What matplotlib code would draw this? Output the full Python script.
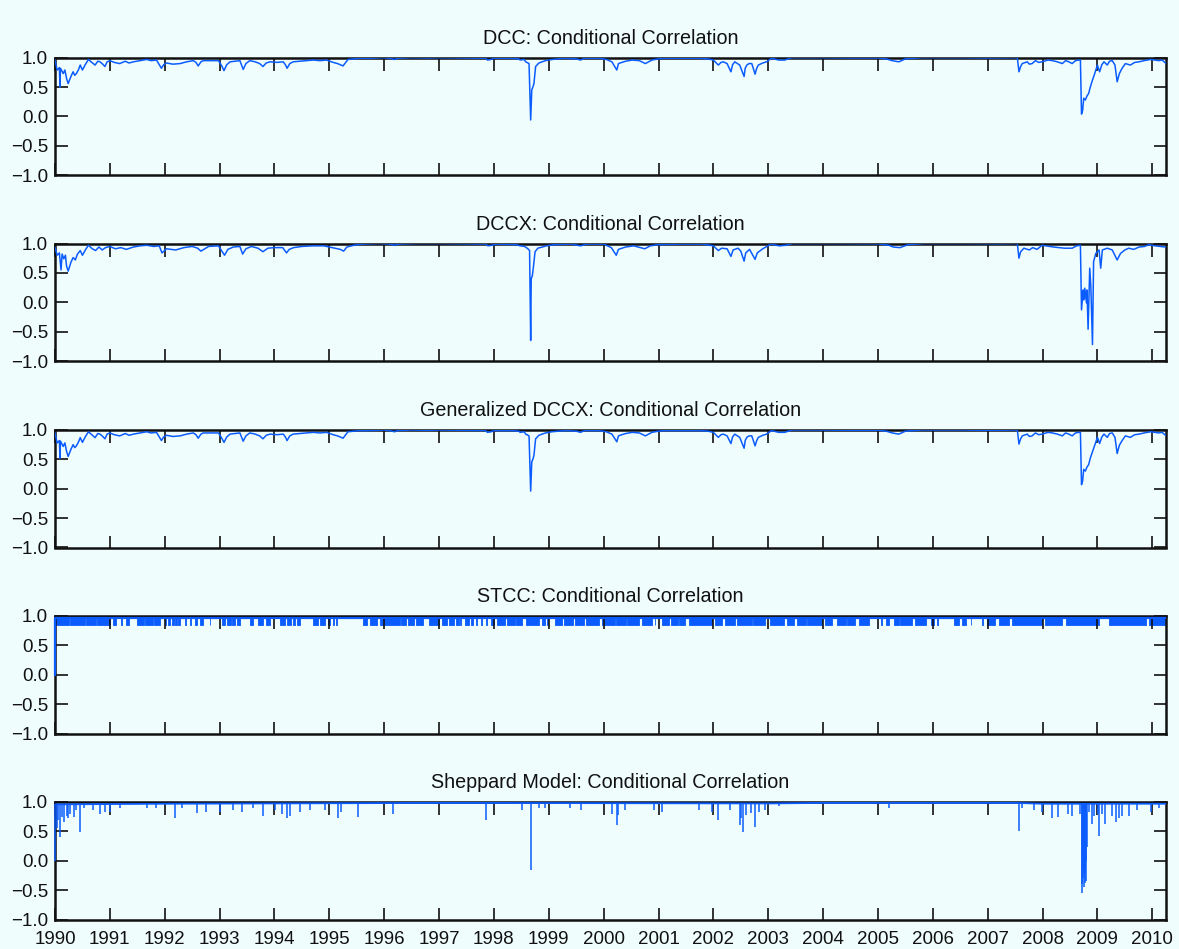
import numpy as np
import matplotlib
matplotlib.use('Agg')
import matplotlib.pyplot as plt
from matplotlib.ticker import FuncFormatter

plt.rcParams['font.family'] = ['Liberation Sans', 'DejaVu Sans']

# ---- data (fractional years, correlation) ----
years = list(range(1990, 2011))
titles = ['DCC: Conditional Correlation', 'DCCX: Conditional Correlation',
          'Generalized DCCX: Conditional Correlation', 'STCC: Conditional Correlation',
          'Sheppard Model: Conditional Correlation']

dcc_t = [1990.00, 1990.04, 1990.08, 1990.09, 1990.10, 1990.15, 1990.18, 1990.21, 1990.24, 1990.29,
         1990.33, 1990.36, 1990.39, 1990.43, 1990.46, 1990.50, 1990.55, 1990.61, 1990.67, 1990.73,
         1990.78, 1990.82, 1990.87, 1990.91, 1990.95, 1991.00, 1991.08, 1991.18, 1991.28, 1991.35,
         1991.43, 1991.55, 1991.67, 1991.75, 1991.85, 1991.94, 1991.98, 1992.03, 1992.15, 1992.28,
         1992.40, 1992.52, 1992.57, 1992.61, 1992.66, 1992.70, 1992.85, 1992.98, 1993.04, 1993.08,
         1993.13, 1993.19, 1993.28, 1993.37, 1993.43, 1993.48, 1993.55, 1993.65, 1993.73, 1993.79,
         1993.85, 1993.92, 1994.05, 1994.16, 1994.20, 1994.23, 1994.28, 1994.34, 1994.45, 1994.58,
         1994.71, 1994.83, 1994.95, 1995.07, 1995.15, 1995.25, 1995.30, 1995.34, 1995.45, 1995.56,
         1995.75, 1995.98, 1996.10, 1996.19, 1996.25, 1996.50, 1996.80, 1997.00, 1997.50, 1997.85,
         1997.88, 1997.95, 1998.00, 1998.30, 1998.45, 1998.48, 1998.55, 1998.58, 1998.64, 1998.67,
         1998.69, 1998.71, 1998.73, 1998.76, 1998.82, 1998.88, 1998.94, 1999.06, 1999.30, 1999.50,
         1999.58, 1999.65, 1999.91, 2000.05, 2000.15, 2000.24, 2000.27, 2000.30, 2000.40, 2000.52,
         2000.65, 2000.76, 2000.82, 2000.88, 2001.00, 2001.12, 2001.40, 2001.73, 2001.90, 2002.00,
         2002.09, 2002.14, 2002.18, 2002.25, 2002.32, 2002.35, 2002.39, 2002.44, 2002.48, 2002.56,
         2002.58, 2002.61, 2002.65, 2002.70, 2002.76, 2002.79, 2002.82, 2002.90, 2002.97, 2003.06,
         2003.19, 2003.30, 2003.43, 2004.00, 2004.50, 2005.02, 2005.15, 2005.26, 2005.38, 2005.50,
         2005.81, 2006.50, 2007.00, 2007.54, 2007.57, 2007.60, 2007.63, 2007.72, 2007.76, 2007.81,
         2007.87, 2007.93, 2007.99, 2008.10, 2008.18, 2008.27, 2008.36, 2008.42, 2008.48, 2008.54,
         2008.60, 2008.66, 2008.69, 2008.71, 2008.73, 2008.75, 2008.78, 2008.81, 2008.84, 2008.87,
         2008.91, 2008.94, 2008.97, 2009.00, 2009.04, 2009.08, 2009.12, 2009.18, 2009.22, 2009.27,
         2009.32, 2009.36, 2009.40, 2009.45, 2009.51, 2009.60, 2009.68, 2009.76, 2009.85, 2009.97,
         2010.05, 2010.12, 2010.18, 2010.24]
dcc_v = [0.96, 0.79, 0.83, 0.50, 0.82, 0.73, 0.79, 0.65, 0.56, 0.68,
         0.76, 0.70, 0.73, 0.80, 0.875, 0.79, 0.88, 0.97, 0.92, 0.875,
         0.94, 0.93, 0.89, 0.85, 0.93, 0.95, 0.92, 0.90, 0.94, 0.91,
         0.93, 0.95, 0.97, 0.95, 0.96, 0.82, 0.88, 0.91, 0.89, 0.90,
         0.93, 0.95, 0.92, 0.86, 0.93, 0.95, 0.95, 0.95, 0.86, 0.78,
         0.88, 0.93, 0.94, 0.95, 0.80, 0.90, 0.95, 0.93, 0.90, 0.85,
         0.91, 0.93, 0.92, 0.93, 0.88, 0.82, 0.90, 0.93, 0.94, 0.95,
         0.96, 0.95, 0.96, 0.92, 0.90, 0.86, 0.92, 0.97, 0.98, 0.99,
         0.99, 1.00, 0.99, 0.97, 0.99, 1.00, 0.995, 1.00, 0.995, 0.99,
         0.96, 0.97, 0.99, 0.99, 0.98, 0.96, 0.97, 0.93, 0.90, -0.06,
         0.45, 0.50, 0.56, 0.85, 0.91, 0.93, 0.95, 0.97, 0.99, 0.98,
         0.96, 0.99, 0.99, 0.97, 0.93, 0.79, 0.90, 0.91, 0.94, 0.96,
         0.95, 0.90, 0.93, 0.96, 0.98, 0.99, 0.99, 0.99, 0.98, 0.96,
         0.875, 0.92, 0.93, 0.90, 0.76, 0.88, 0.93, 0.90, 0.875, 0.68,
         0.82, 0.875, 0.90, 0.90, 0.72, 0.82, 0.875, 0.91, 0.93, 0.99,
         0.96, 0.96, 1.00, 1.00, 0.995, 0.995, 0.98, 0.95, 0.93, 0.98,
         1.00, 1.00, 0.995, 1.00, 0.76, 0.85, 0.90, 0.93, 0.89, 0.90,
         0.95, 0.92, 0.93, 0.96, 0.95, 0.93, 0.90, 0.95, 0.93, 0.90,
         0.95, 0.96, 0.96, 0.04, 0.10, 0.31, 0.28, 0.35, 0.39, 0.50,
         0.62, 0.70, 0.79, 0.875, 0.76, 0.88, 0.93, 0.875, 0.94, 0.95,
         0.875, 0.59, 0.73, 0.82, 0.90, 0.875, 0.92, 0.93, 0.95, 0.97,
         0.96, 0.95, 0.96, 0.91]

dccx_t = [1990.00, 1990.04, 1990.08, 1990.11, 1990.13, 1990.16, 1990.19, 1990.21, 1990.24, 1990.29,
          1990.33, 1990.37, 1990.41, 1990.46, 1990.50, 1990.56, 1990.61, 1990.68, 1990.74, 1990.80,
          1990.86, 1990.92, 1991.00, 1991.10, 1991.20, 1991.30, 1991.43, 1991.55, 1991.67, 1991.80,
          1991.90, 1991.95, 1992.03, 1992.20, 1992.35, 1992.50, 1992.60, 1992.66, 1992.80, 1992.98,
          1993.05, 1993.09, 1993.15, 1993.25, 1993.37, 1993.42, 1993.48, 1993.58, 1993.70, 1993.79,
          1993.88, 1994.00, 1994.15, 1994.22, 1994.27, 1994.35, 1994.50, 1994.70, 1994.90, 1995.05,
          1995.20, 1995.26, 1995.32, 1995.45, 1995.60, 1995.90, 1996.10, 1996.19, 1996.27, 1996.60,
          1997.00, 1997.50, 1997.85, 1997.89, 1997.96, 1998.05, 1998.40, 1998.48, 1998.56, 1998.62,
          1998.65, 1998.67, 1998.68, 1998.70, 1998.72, 1998.75, 1998.80, 1998.88, 1998.96, 1999.10,
          1999.40, 1999.58, 1999.70, 2000.00, 2000.14, 2000.23, 2000.27, 2000.40, 2000.55, 2000.75,
          2000.85, 2001.00, 2001.40, 2001.80, 2002.00, 2002.09, 2002.15, 2002.25, 2002.32, 2002.36,
          2002.45, 2002.50, 2002.56, 2002.59, 2002.66, 2002.76, 2002.80, 2002.90, 2003.05, 2003.20,
          2003.32, 2003.45, 2004.20, 2005.00, 2005.20, 2005.28, 2005.40, 2005.55, 2005.85, 2006.60,
          2007.20, 2007.54, 2007.57, 2007.60, 2007.66, 2007.76, 2007.82, 2007.90, 2007.99, 2008.20,
          2008.40, 2008.54, 2008.62, 2008.69, 2008.71, 2008.74, 2008.75, 2008.77, 2008.80, 2008.81,
          2008.83, 2008.86, 2008.88, 2008.91, 2008.93, 2008.97, 2009.03, 2009.06, 2009.09, 2009.18,
          2009.27, 2009.36, 2009.42, 2009.50, 2009.57, 2009.66, 2009.76, 2009.86, 2009.94, 2010.05,
          2010.15, 2010.24]
dccx_v = [0.93, 0.80, 0.84, 0.55, 0.82, 0.74, 0.80, 0.62, 0.53, 0.68,
          0.76, 0.72, 0.82, 0.88, 0.80, 0.90, 0.97, 0.91, 0.88, 0.94,
          0.89, 0.93, 0.95, 0.91, 0.93, 0.90, 0.94, 0.96, 0.97, 0.95,
          0.96, 0.84, 0.91, 0.89, 0.93, 0.95, 0.92, 0.87, 0.95, 0.96,
          0.86, 0.80, 0.90, 0.94, 0.95, 0.82, 0.91, 0.95, 0.92, 0.86,
          0.92, 0.93, 0.93, 0.84, 0.90, 0.93, 0.95, 0.96, 0.96, 0.93,
          0.90, 0.87, 0.94, 0.97, 0.99, 1.00, 0.99, 0.97, 0.99, 1.00,
          1.00, 0.995, 0.99, 0.96, 0.97, 0.99, 0.98, 0.96, 0.95, 0.91,
          0.88, -0.65, 0.40, 0.45, 0.60, 0.86, 0.92, 0.94, 0.96, 0.98,
          0.99, 0.96, 0.99, 0.99, 0.93, 0.80, 0.90, 0.94, 0.96, 0.91,
          0.96, 0.98, 0.99, 0.99, 0.96, 0.88, 0.92, 0.91, 0.78, 0.89,
          0.92, 0.87, 0.70, 0.84, 0.90, 0.73, 0.84, 0.91, 0.99, 0.96,
          0.97, 1.00, 1.00, 0.995, 0.97, 0.94, 0.93, 0.98, 1.00, 1.00,
          0.995, 1.00, 0.75, 0.86, 0.92, 0.89, 0.93, 0.90, 0.97, 0.94,
          0.92, 0.92, 0.96, 0.97, -0.13, 0.21, 0.04, 0.24, -0.01, 0.21,
          -0.46, 0.58, 0.27, -0.72, 0.69, 0.83, 0.89, 0.58, 0.89, 0.92,
          0.89, 0.72, 0.83, 0.89, 0.92, 0.90, 0.94, 0.95, 0.98, 0.96,
          0.95, 0.94]

gdccx_t = dcc_t
gdccx_v = [0.95, 0.78, 0.82, 0.52, 0.81, 0.72, 0.78, 0.64, 0.55, 0.67,
           0.75, 0.70, 0.73, 0.80, 0.87, 0.79, 0.88, 0.97, 0.92, 0.87,
           0.94, 0.93, 0.89, 0.85, 0.93, 0.95, 0.92, 0.90, 0.94, 0.91,
           0.93, 0.95, 0.97, 0.95, 0.96, 0.82, 0.88, 0.91, 0.89, 0.90,
           0.93, 0.95, 0.92, 0.86, 0.93, 0.95, 0.95, 0.95, 0.86, 0.79,
           0.88, 0.93, 0.94, 0.95, 0.81, 0.90, 0.95, 0.93, 0.90, 0.85,
           0.91, 0.93, 0.92, 0.93, 0.88, 0.82, 0.90, 0.93, 0.94, 0.95,
           0.96, 0.95, 0.96, 0.92, 0.90, 0.86, 0.92, 0.97, 0.98, 0.99,
           0.99, 1.00, 0.99, 0.97, 0.99, 1.00, 0.995, 1.00, 0.995, 0.99,
           0.96, 0.97, 0.99, 0.99, 0.98, 0.96, 0.97, 0.93, 0.90, -0.04,
           0.46, 0.50, 0.57, 0.85, 0.91, 0.93, 0.95, 0.97, 0.99, 0.98,
           0.96, 0.99, 0.99, 0.97, 0.93, 0.80, 0.90, 0.91, 0.94, 0.96,
           0.95, 0.90, 0.93, 0.96, 0.98, 0.99, 0.99, 0.99, 0.98, 0.96,
           0.875, 0.92, 0.93, 0.90, 0.77, 0.88, 0.93, 0.90, 0.875, 0.69,
           0.82, 0.875, 0.90, 0.90, 0.73, 0.82, 0.875, 0.91, 0.93, 0.99,
           0.96, 0.96, 1.00, 1.00, 0.995, 0.995, 0.98, 0.95, 0.93, 0.98,
           1.00, 1.00, 0.995, 1.00, 0.76, 0.85, 0.90, 0.93, 0.89, 0.90,
           0.95, 0.92, 0.93, 0.96, 0.95, 0.93, 0.90, 0.95, 0.93, 0.90,
           0.95, 0.96, 0.96, 0.07, 0.13, 0.33, 0.30, 0.37, 0.41, 0.52,
           0.63, 0.71, 0.80, 0.875, 0.77, 0.88, 0.93, 0.875, 0.94, 0.95,
           0.875, 0.60, 0.74, 0.82, 0.90, 0.875, 0.92, 0.93, 0.95, 0.97,
           0.96, 0.95, 0.96, 0.91]

# STCC: high regime line plus the spells spent in the low regime
stcc_t = [1990.00, 1990.00, 2010.24]
stcc_v = [0.00, 0.97, 0.97]
stcc_low = 0.84
stcc_spells = [
    (1990.00, 1990.25), (1990.27, 1990.55), (1990.57, 1990.75), (1990.77, 1991.00),
    (1991.06, 1991.12), (1991.21, 1991.23), (1991.30, 1991.34), (1991.49, 1991.62),
    (1991.64, 1991.78), (1991.80, 1991.91), (1992.00, 1992.03), (1992.06, 1992.10),
    (1992.13, 1992.16), (1992.19, 1992.22), (1992.25, 1992.28), (1992.37, 1992.38),
    (1992.46, 1992.47), (1992.55, 1992.58), (1992.64, 1992.70), (1992.82, 1992.83),
    (1993.04, 1993.10), (1993.13, 1993.20), (1993.23, 1993.28), (1993.31, 1993.37),
    (1993.55, 1993.61), (1993.70, 1993.79), (1993.85, 1993.92), (1994.10, 1994.20),
    (1994.23, 1994.30), (1994.33, 1994.38), (1994.42, 1994.46), (1994.71, 1994.80),
    (1994.83, 1994.92), (1994.98, 1995.01), (1995.07, 1995.08), (1995.13, 1995.14),
    (1995.62, 1995.68), (1995.74, 1995.86), (1995.92, 1996.28), (1996.30, 1996.40),
    (1996.43, 1996.55), (1996.58, 1996.70), (1996.82, 1997.00), (1997.06, 1997.15),
    (1997.18, 1997.27), (1997.30, 1997.36), (1997.39, 1997.40), (1997.48, 1997.55),
    (1997.58, 1997.61), (1997.67, 1997.70), (1997.76, 1997.79), (1997.86, 1997.87),
    (1997.94, 1998.00), (1998.06, 1998.20), (1998.23, 1998.38), (1998.41, 1998.52),
    (1998.58, 1998.82), (1998.88, 1998.94), (1998.97, 1998.98), (1999.12, 1999.24),
    (1999.27, 1999.45), (1999.48, 1999.65), (1999.68, 1999.91), (1999.97, 2000.20),
    (2000.23, 2000.40), (2000.43, 2000.64), (2000.70, 2000.88), (2000.93, 2000.94),
    (2001.06, 2001.20), (2001.23, 2001.35), (2001.38, 2001.48), (2001.55, 2001.97),
    (2002.03, 2002.15), (2002.21, 2002.40), (2002.43, 2002.70), (2002.73, 2002.94),
    (2003.03, 2003.28), (2003.34, 2003.47), (2003.53, 2003.68), (2003.71, 2003.98),
    (2004.04, 2004.16), (2004.26, 2004.41), (2004.44, 2004.59), (2004.65, 2004.83),
    (2005.05, 2005.08), (2005.14, 2005.20), (2005.29, 2005.38), (2005.41, 2005.62),
    (2005.68, 2005.87), (2005.96, 2006.02), (2006.08, 2006.09), (2006.38, 2006.47),
    (2006.53, 2006.60), (2006.69, 2006.70), (2006.90, 2006.91), (2006.99, 2007.14),
    (2007.20, 2007.39), (2007.45, 2007.99), (2008.05, 2008.36), (2008.42, 2009.03),
    (2009.21, 2009.88), (2009.94, 2010.24)]

# Sheppard model: slowly moving level plus short-lived drops
shep_t = [1990.00, 1992.00, 1995.50, 1997.00, 2003.00, 2004.00, 2007.50, 2008.00, 2010.24]
shep_v = [0.96, 0.97, 0.98, 0.985, 0.975, 0.985, 0.985, 0.97, 0.97]
drop_t = [1990.00, 1990.04, 1990.06, 1990.10, 1990.13, 1990.17, 1990.21, 1990.24, 1990.28, 1990.35,
          1990.38, 1990.45, 1990.52, 1990.70, 1990.82, 1990.91, 1991.00, 1991.18, 1991.67, 1991.85,
          1992.19, 1992.31, 1992.58, 1992.76, 1993.00, 1993.25, 1993.40, 1993.61, 1993.80, 1994.01,
          1994.13, 1994.23, 1994.28, 1994.46, 1994.64, 1994.92, 1995.16, 1995.22, 1995.52, 1996.16,
          1997.85, 1998.52, 1998.67, 1998.82, 1998.94, 1999.39, 1999.58, 2000.15, 2000.24, 2000.27,
          2000.39, 2000.91, 2001.06, 2001.73, 2001.97, 2002.08, 2002.30, 2002.48, 2002.51, 2002.54,
          2002.60, 2002.69, 2002.76, 2002.84, 2002.94, 2003.20, 2005.20, 2007.57, 2007.63, 2007.84,
          2007.99, 2008.17, 2008.29, 2008.47, 2008.53, 2008.69, 2008.71, 2008.72, 2008.73, 2008.74,
          2008.75, 2008.76, 2008.77, 2008.78, 2008.79, 2008.80, 2008.81, 2008.84, 2008.90, 2008.93,
          2009.01, 2009.03, 2009.08, 2009.14, 2009.27, 2009.33, 2009.39, 2009.45, 2009.57, 2009.72,
          2009.97, 2010.12]
drop_v = [0.00, 0.55, 0.69, 0.41, 0.75, 0.66, 0.77, 0.72, 0.80, 0.75,
          0.86, 0.49, 0.89, 0.86, 0.80, 0.83, 0.83, 0.89, 0.89, 0.89,
          0.73, 0.89, 0.81, 0.83, 0.83, 0.86, 0.83, 0.89, 0.77, 0.86,
          0.80, 0.72, 0.77, 0.83, 0.86, 0.86, 0.73, 0.83, 0.75, 0.80,
          0.70, 0.87, -0.16, 0.89, 0.89, 0.89, 0.86, 0.80, 0.61, 0.78,
          0.86, 0.87, 0.83, 0.86, 0.83, 0.69, 0.87, 0.61, 0.72, 0.49,
          0.78, 0.81, 0.58, 0.83, 0.86, 0.93, 0.90, 0.51, 0.89, 0.86,
          0.83, 0.72, 0.75, 0.79, 0.77, 0.80, -0.55, -0.40, 0.24, -0.30,
          -0.16, -0.45, -0.20, -0.38, -0.35, 0.00, 0.24, 0.83, 0.63, 0.77,
          0.80, 0.42, 0.80, 0.63, 0.77, 0.66, 0.72, 0.77, 0.77, 0.87,
          0.83, 0.89]

# ---- figure ----
bg = '#f0fdfd'
blue = '#0b5cff'
fig = plt.figure(figsize=(11.79, 9.49), dpi=100, facecolor=bg)

W, H = 1179.0, 949.0
tops = [57.7, 243.5, 430.0, 616.0, 802.0]
axh = 117.5
axes = []
for i, top in enumerate(tops):
    ax = fig.add_axes([55 / W, 1 - (top + axh) / H, 1111 / W, axh / H])
    ax.set_facecolor(bg)
    axes.append(ax)

axes[0].plot(dcc_t, dcc_v, color=blue, lw=1.1, zorder=3)
axes[1].plot(dccx_t, dccx_v, color=blue, lw=1.1, zorder=3)
axes[2].plot(gdccx_t, gdccx_v, color=blue, lw=1.1, zorder=3)

ax = axes[3]
ax.broken_barh([(a, b - a) for a, b in stcc_spells], (stcc_low, stcc_v[-1] - stcc_low),
               facecolor=blue, edgecolor=blue, lw=0.6)
ax.plot(stcc_t, stcc_v, color=blue, lw=1.6, zorder=3, clip_on=False)

ax = axes[4]
ax.plot(shep_t, shep_v, color=blue, lw=1.3, zorder=3)
ax.vlines(drop_t, drop_v, np.interp(drop_t, shep_t, shep_v), color=blue, lw=1.1,
          zorder=3, clip_on=False)

fmt = FuncFormatter(lambda v, p: ('%.1f' % v).replace('-', '\u2212'))
for i, ax in enumerate(axes):
    ax.set_xlim(1990, 2010.25)
    ax.set_ylim(-1, 1)
    ax.set_xticks(years)
    ax.set_yticks([-1, -0.5, 0, 0.5, 1])
    ax.yaxis.set_major_formatter(fmt)
    ax.tick_params(direction='in', top=True, right=True, length=9, width=1.2,
                   labelsize=13.5, colors='#111111', pad=5)
    ax.tick_params(axis='x', pad=8)
    for s in ax.spines.values():
        s.set_linewidth(1.8)
        s.set_color('#111111')
    ax.set_title(titles[i], fontsize=14.2, pad=10, color='#111111')
    if i < 4:
        ax.set_xticklabels([])

fig.savefig('out.png', dpi=100, facecolor=bg)
